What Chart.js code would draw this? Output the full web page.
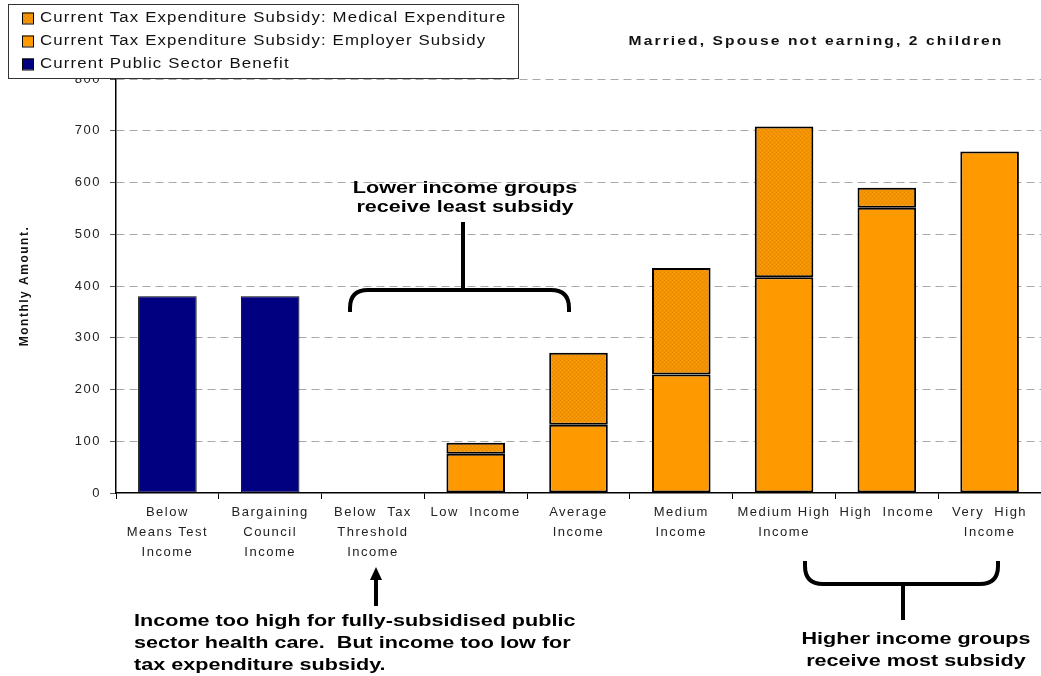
<!DOCTYPE html>
<html>
<head>
<meta charset="utf-8">
<script src="https://cdn.jsdelivr.net/npm/chart.js@4/dist/chart.umd.min.js"></script>
<style>
  html, body { margin: 0; padding: 0; background: #fff; }
  #wrap { width: 1041px; height: 676px; position: relative; }
</style>
</head>
<body>
<div id="wrap"><canvas id="chart" width="1041" height="676"></canvas></div>
<script>
const categories = [
  ['Below', 'Means Test', 'Income'],
  ['Bargaining', 'Council', 'Income'],
  ['Below  Tax', 'Threshold', 'Income'],
  ['Low  Income'],
  ['Average', 'Income'],
  ['Medium', 'Income'],
  ['Medium High', 'Income'],
  ['High  Income'],
  ['Very  High', 'Income']
];
const publicBenefit   = [380, 380, null, null, null, null, null, null, null];
const employerSubsidy = [null, null, null, 76, 132, 229, 417, 551, 660];
const medicalSubsidy  = [null, null, null, 21, 139, 206, 291, 39, null];
const yTicks = [0, 100, 200, 300, 400, 500, 600, 700, 800];

const seriesNames = {
  medical: 'Current Tax Expenditure Subsidy: Medical Expenditure',
  employer: 'Current Tax Expenditure Subsidy: Employer Subsidy',
  publicSector: 'Current Public Sector Benefit'
};

const FONT = '"Liberation Sans", Arial, sans-serif';

// speckled orange fill for the medical expenditure part of the bars
function speckle() {
  const c = document.createElement('canvas');
  c.width = 4; c.height = 4;
  const g = c.getContext('2d');
  g.fillStyle = '#f49300';
  g.fillRect(0, 0, 4, 4);
  g.fillStyle = '#e98700';
  g.fillRect(0, 0, 1, 1);
  g.fillRect(2, 2, 1, 1);
  g.fillStyle = '#f89c10';
  g.fillRect(2, 0, 1, 1);
  g.fillRect(0, 2, 1, 1);
  return g.createPattern(c, 'repeat');
}
const medicalFill = speckle();

function brace(ctx, x1, x2, y, tip, stemX, stemEnd) {
  const r = 18;
  const dir = Math.sign(tip - y);
  ctx.beginPath();
  ctx.moveTo(x1, tip);
  ctx.lineTo(x1, y + dir * r);
  ctx.quadraticCurveTo(x1, y, x1 + r, y);
  ctx.lineTo(x2 - r, y);
  ctx.quadraticCurveTo(x2, y, x2, y + dir * r);
  ctx.lineTo(x2, tip);
  ctx.moveTo(stemX, y);
  ctx.lineTo(stemX, stemEnd);
  ctx.stroke();
}

// wide text: horizontally stretched, with optional extra tracking
function wideText(ctx, text, x, y, align, sx, spacing) {
  ctx.save();
  ctx.letterSpacing = spacing + 'px';
  const w = ctx.measureText(text).width - spacing;
  let left = x;
  if (align === 'center') left = x - w * sx / 2;
  else if (align === 'right') left = x - w * sx;
  ctx.translate(left, y);
  ctx.scale(sx, 1);
  ctx.textAlign = 'left';
  ctx.fillText(text, 0, 0);
  ctx.restore();
}

const decorations = {
  id: 'decorations',
  beforeDraw(chart) {
    chart.ctx.letterSpacing = '1.5px';
  },
  afterDraw(chart) {
    const ctx = chart.ctx;
    ctx.save();
    ctx.letterSpacing = '0px';

    // legend box (it sits over the top of the value axis)
    ctx.fillStyle = '#fff';
    ctx.fillRect(8.5, 4.5, 510, 74);
    ctx.strokeStyle = '#333';
    ctx.lineWidth = 1;
    ctx.strokeRect(8.5, 4.5, 510, 74);
    const items = [
      [seriesNames.medical, medicalFill],
      [seriesNames.employer, '#ff9900'],
      [seriesNames.publicSector, '#000080']
    ];
    ctx.font = '14px ' + FONT;
    ctx.textBaseline = 'middle';
    items.forEach((it, i) => {
      const y = 18 + i * 23;
      ctx.fillStyle = it[1];
      ctx.fillRect(22, y - 5.5, 12, 11);
      ctx.strokeStyle = '#000';
      ctx.strokeRect(22.5, y - 5, 11, 11);
      ctx.fillStyle = '#111';
      wideText(ctx, it[0], 40, y + 0.5, 'left', 1.2, 0.95);
    });

    // heading at top right
    ctx.font = 'bold 13px ' + FONT;
    ctx.fillStyle = '#111';
    wideText(ctx, 'Married, Spouse not earning, 2 children', 815, 41, 'center', 1.2, 1.75);

    // annotations
    ctx.strokeStyle = '#000';
    ctx.fillStyle = '#000';
    ctx.lineWidth = 4;
    ctx.lineCap = 'butt';
    brace(ctx, 350, 569, 290, 312, 463, 222);
    brace(ctx, 805, 998, 584, 561, 903, 620);

    // arrow under "Below Tax Threshold"
    ctx.beginPath();
    ctx.moveTo(376, 606);
    ctx.lineTo(376, 578);
    ctx.stroke();
    ctx.beginPath();
    ctx.moveTo(376, 567);
    ctx.lineTo(370, 580);
    ctx.lineTo(382, 580);
    ctx.closePath();
    ctx.fill();

    ctx.font = 'bold 17px ' + FONT;
    const sx = 1.27;
    wideText(ctx, 'Lower income groups', 465, 188, 'center', sx, 0);
    wideText(ctx, 'receive least subsidy', 465, 207, 'center', sx, 0);
    wideText(ctx, 'Higher income groups', 916, 639, 'center', sx, 0);
    wideText(ctx, 'receive most subsidy', 916, 661, 'center', sx, 0);

    wideText(ctx, 'Income too high for fully-subsidised public', 134, 621, 'left', sx, 0);
    wideText(ctx, 'sector health care.  But income too low for', 134, 643, 'left', sx, 0);
    wideText(ctx, 'tax expenditure subsidy.', 134, 665, 'left', sx, 0);
    ctx.restore();
  }
};

const ctx = document.getElementById('chart').getContext('2d');
new Chart(ctx, {
  type: 'bar',
  data: {
    labels: categories,
    datasets: [
      {
        label: seriesNames.publicSector,
        data: publicBenefit,
        backgroundColor: '#000080',
        borderColor: '#000',
        borderWidth: 1
      },
      {
        label: seriesNames.employer,
        data: employerSubsidy,
        backgroundColor: '#ff9900',
        borderColor: '#000',
        borderWidth: 2
      },
      {
        label: seriesNames.medical,
        data: medicalSubsidy,
        backgroundColor: medicalFill,
        borderColor: '#000',
        borderWidth: 2
      }
    ]
  },
  options: {
    responsive: false,
    animation: false,
    devicePixelRatio: 1,
    layout: { padding: { top: 79, left: 0, right: 0, bottom: 0 } },
    datasets: { bar: { categoryPercentage: 1, barPercentage: 0.57, borderSkipped: false } },
    plugins: {
      legend: { display: false },
      tooltip: { enabled: false }
    },
    scales: {
      x: {
        stacked: true,
        offset: true,
        grid: {
          offset: true,
          drawOnChartArea: false,
          tickLength: 6,
          color: '#000'
        },
        border: { color: '#000', width: 1.5 },
        ticks: {
          maxRotation: 0,
          autoSkip: false,
          padding: 3,
          color: '#222',
          font: { family: FONT, size: 13, lineHeight: 1.55 }
        },
        afterFit: s => { s.height = 183; }
      },
      y: {
        stacked: true,
        min: 0,
        max: 800,
        afterBuildTicks: s => { s.ticks = yTicks.map(v => ({ value: v })); },
        grid: {
          color: c => c.tick.value === 0 ? 'transparent' : '#a8a8a8',
          tickColor: '#555',
          tickBorderDash: [],
          tickLength: 6
        },
        border: { color: '#000', width: 1.5, dash: [8, 5] },
        ticks: {
          padding: 9,
          color: '#222',
          font: { family: FONT, size: 13 }
        },
        title: {
          display: true,
          text: 'Monthly Amount.',
          color: '#111',
          padding: { top: 17, bottom: 0 },
          font: { family: FONT, size: 12, weight: 'bold' }
        },
        afterFit: s => { s.width = 116; }
      }
    }
  },
  plugins: [decorations]
});
</script>
</body>
</html>
